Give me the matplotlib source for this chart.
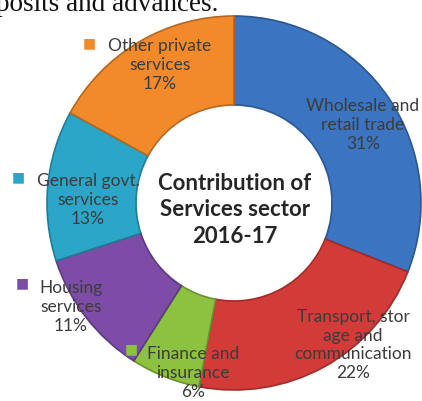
import matplotlib.pyplot as plt
import matplotlib.colors as mcolors

# share of each sub-sector in services GVA, 2016-17
sectors = ["Wholesale and\nretail trade", "Transport, stor\nage and\ncommunication",
           "Finance and\ninsurance", "Housing\nservices", "General govt.\nservices",
           "Other private\nservices"]
shares = [31, 22, 6, 11, 13, 17]
colors = ["#3b74c0", "#d33b38", "#8cc23f", "#7c4ca6", "#2ba6c8", "#f28a2c"]

# label block centres and key squares, in pixels from top-left
label_x = [363, 353, 193, 71, 88, 160]
label_y = [125, 345, 373, 307, 200, 65]
key_x = [291, 275, 131, 22, 18, 89]
key_y = [103, 310, 349, 283, 177, 43]

W, H = 422, 401
fig = plt.figure(figsize=(W / 100, H / 100), dpi=100)
ax = fig.add_axes([0, 0, 1, 1])

cx, cy, r_out, r_in = 234, 203, 187, 98
wedges, _ = ax.pie(shares, colors=colors, radius=r_out, center=(cx, H - cy),
                   startangle=90, counterclock=False,
                   wedgeprops=dict(width=r_out - r_in, linewidth=1.2))
for w, c in zip(wedges, colors):
    dark = tuple(v * 0.75 for v in mcolors.to_rgb(c))
    w.set_edgecolor(dark)

ax.set_xlim(0, W)
ax.set_ylim(0, H)
ax.set_aspect("equal")
ax.axis("off")

for name, pct, x, y, kx, ky, c in zip(sectors, shares, label_x, label_y,
                                       key_x, key_y, colors):
    ax.text(x, H - y, f"{name}\n{pct}%", ha="center", va="center",
            fontsize=12.5, family="Lato", color="#3c3c3c", linespacing=1.2)
    ax.text(kx, H - ky, "■", ha="center", va="center", fontsize=10,
            family="DejaVu Sans", color=c)

ax.text(cx + 1, H - 210, "Contribution of\nServices sector\n2016-17", ha="center",
        va="center", fontsize=16, fontweight="bold", family="Lato",
        color="#262626", linespacing=1.3)

# tail of the paragraph above the chart
fig.text(-4 / W, 1 - 11 / H, "posits and advances.", ha="left", va="baseline",
         fontsize=19.5, family="Liberation Serif", color="#111111")

fig.savefig("out.png", dpi=100)
